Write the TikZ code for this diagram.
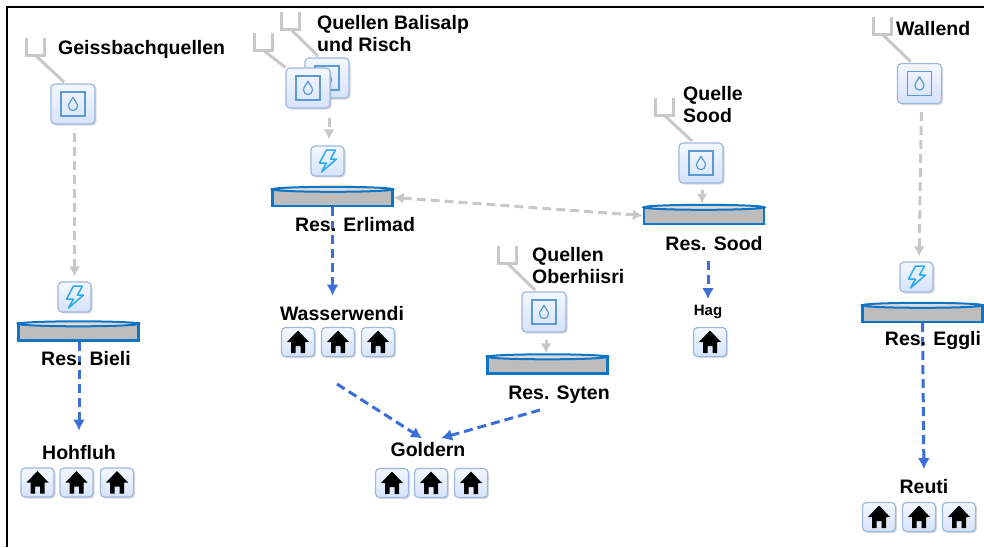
\documentclass[tikz,border=0pt]{standalone}
\usepackage{fontspec}
\setmainfont{Liberation Sans}
\usetikzlibrary{arrows.meta,shadows}
\definecolor{pipegray}{HTML}{C8C8C8}
\definecolor{tankgray}{HTML}{BDBDBD}
\definecolor{pipeblue}{HTML}{3A6FD8}
\definecolor{tankblue}{HTML}{0F74C4}
\definecolor{iconblue}{HTML}{5B9BD5}
\definecolor{boltblue}{HTML}{29ABF2}
\definecolor{boxline}{HTML}{9DB8DE}
\definecolor{boxtop}{HTML}{F4F7FF}
\definecolor{boxbottom}{HTML}{D6E3FC}
\tikzset{
    lbl/.style={font=\bfseries\fontsize{19.5}{22}\selectfont, inner sep=0pt, align=left},
    iconbox/.style={draw=boxline, line width=1.2pt, rounded corners=4pt, top color=boxtop, bottom color=boxbottom,
        drop shadow={shadow xshift=1.5pt, shadow yshift=-1.5pt, opacity=0.3}},
    stem/.style={pipegray, line width=3pt},
    grayflow/.style={pipegray, line width=3pt, dash pattern=on 9pt off 5pt, -{Latex[length=10pt,width=11pt]}},
    blueflow/.style={pipeblue, line width=3pt, dash pattern=on 9pt off 5pt, -{Latex[length=11pt,width=12pt]}},
    wellbox/.pic={
        \node[iconbox, minimum width=44pt, minimum height=40pt] (-box) at (0,0) {};
        \draw[iconblue, line width=1.4pt] (-12,-12) rectangle (12,12);
        \draw[iconblue, line width=1.2pt] (0,-7) .. controls (1,-4) and (4.5,-1) .. (4.5,2) ..
        controls (4.5,8) and (-4.5,8) .. (-4.5,2) .. controls (-4.5,-1) and (-1,-4) .. (0,-7);
    },
    boltbox/.pic={
        \node[iconbox, minimum width=33pt, minimum height=30pt] (-box) at (0,0) {};
        \draw[boltblue, line width=1.5pt, line join=round] (-1,-11) -- (8,-11) -- (3,-2) -- (9,-2) -- (-6,11) -- (-1,2) -- (-8,2) -- cycle;
    },
    housebox/.pic={
        \node[iconbox, minimum width=33pt, minimum height=29pt] (-box) at (0,0) {};
        \fill[black] (0,-11.5) -- (11,0) -- (7,0) -- (7,11) -- (2.5,11) -- (2.5,4) -- (-2.5,4) -- (-2.5,11) -- (-7,11) -- (-7,0) -- (-11,0) -- cycle;
    },
    tank/.pic={
        \node[draw=tankblue, fill=tankgray, line width=2.4pt, minimum width=120pt, minimum height=17pt, inner sep=0pt] (-tank) at (0,0) {};
        \draw[tankblue, fill=tankgray!55, line width=2pt] ([yshift=-1.5pt]-tank.north) ellipse [x radius=60pt, y radius=2.5pt];
    },
    intake/.pic={
        \draw[stem] (-9,-17) -- (-9,0) -- (9,0) -- (9,-17);
        \coordinate (-foot) at (0,0);
    },
}

\begin{document}
\begin{tikzpicture}[x=1pt, y=-1pt]
    \useasboundingbox (0,0) rectangle (984,547);
    \draw[line width=2.4pt] (7,547) -- (7,7) -- (984,7);

    \pic (geiss) at (35,55) {intake};
    \pic (balisalp) at (290.5,29) {intake};
    \pic (risch) at (263,50) {intake};
    \pic (oberhiisri) at (507,263) {intake};
    \pic (quellesood) at (664,115) {intake};
    \pic (wallend) at (882,34) {intake};

    \pic (geissq) at (73,104) {wellbox};
    \pic (balisalpq) at (327,78) {wellbox};
    \pic (rischq) at (308,88) {wellbox};
    \pic (oberhiisriq) at (544,312) {wellbox};
    \pic (soodq) at (701,163) {wellbox};
    \pic (wallendq) at (919.5,83.5) {wellbox};

    \pic (bielibolt) at (74.5,297) {boltbox};
    \pic (erlimadbolt) at (327.5,161) {boltbox};
    \pic (egglibolt) at (916.5,277) {boltbox};

    \pic (bieli) at (78.5,332) {tank};
    \pic (erlimad) at (332.5,197.5) {tank};
    \pic (syten) at (547.5,365) {tank};
    \pic (sood) at (704,215.5) {tank};
    \pic (eggli) at (922.5,313.5) {tank};

    \foreach \hname/\hx in {hoa/37.5, hob/76.5, hoc/117} \pic (\hname) at (\hx,482.5) {housebox};
    \foreach \hname/\hx in {waa/298, wab/338, wac/378} \pic (\hname) at (\hx,342) {housebox};
    \foreach \hname/\hx in {goa/392, gob/431, goc/471} \pic (\hname) at (\hx,483) {housebox};
    \foreach \hname/\hx in {rea/879, reb/919, rec/959} \pic (\hname) at (\hx,517) {housebox};
    \pic (hagh) at (710,342) {housebox};

    \node[lbl] (hohfluh) at (79,453) {Hohfluh};
    \node[lbl] (wasserwendi) at (342,314) {Wasserwendi};
    \node[lbl] (goldern) at (428,449.5) {Goldern};
    \node[lbl, font=\bfseries\fontsize{15}{18}\selectfont] (hag) at (708,312) {Hag};
    \node[lbl] (reuti) at (924,486.5) {Reuti};
    \node[lbl] (soodres) at (714,244) {Res. Sood};
    \node[lbl] (sytenres) at (559,395) {Res. Syten};
    \coordinate (wasserend) at (337,384);
    \coordinate (sytenend) at (540,410);

    \draw[stem, shorten >=2pt] (geiss-foot) -- (geissq-box.110);
    \draw[stem, shorten >=2pt] (balisalp-foot) -- (balisalpq-box.110);
    \draw[stem] (risch-foot) -- (rischq-box.north west);
    \draw[stem, shorten >=2pt] (oberhiisri-foot) -- (oberhiisriq-box.110);
    \draw[stem, shorten >=2pt] (quellesood-foot) -- (soodq-box.110);
    \draw[stem, shorten >=2pt] (wallend-foot) -- (wallendq-box.110);

    \draw[grayflow, shorten <=8pt, shorten >=5pt] (bielibolt-box.north |- geissq-box.south) -- (bielibolt-box.north);
    \draw[grayflow, shorten <=9pt, shorten >=6pt] ([xshift=1.5pt]erlimadbolt-box.north |- rischq-box.south) -- ([xshift=1.5pt]erlimadbolt-box.north);
    \draw[grayflow, shorten <=8pt, shorten >=5pt] ([xshift=2pt]wallendq-box.south) -- ([xshift=2.5pt]egglibolt-box.north);
    \draw[grayflow, shorten <=7pt, shorten >=2pt] ([xshift=2pt]oberhiisriq-box.south) -- ([xshift=2pt]syten-tank.north -| oberhiisriq-box.south);
    \draw[grayflow, shorten <=6pt, shorten >=2pt] ([xshift=1pt]soodq-box.south) -- ([xshift=1pt]sood-tank.north -| soodq-box.south);
    \draw[grayflow, {Latex[length=10pt,width=11pt]}-{Latex[length=10pt,width=11pt]}] (erlimad-tank.east) -- (sood-tank.west);

    \draw[blueflow, shorten >=15pt] (bieli-tank.south -| hohfluh.north) -- (hohfluh.north);
    \draw[blueflow, shorten >=11pt] (erlimad-tank.south) -- (erlimad-tank.south |- wasserwendi.north);
    \draw[blueflow, shorten >=10pt] (eggli-tank.south) -- (reuti.north);
    \draw[blueflow, shorten <=10pt, shorten >=6pt] (hag.north |- soodres.south) -- (hag.north);
    \draw[blueflow, shorten >=7pt] (wasserend) -- (goldern.north);
    \draw[blueflow] (sytenend) -- ([xshift=13pt,yshift=4pt]goldern.north);

    \node[lbl, anchor=west] (geisslabel) at (58,49) {Geissbachquellen};
    \node[lbl, anchor=west] (balisalplabel) at (317,34) {Quellen Balisalp\\und Risch};
    \node[lbl, anchor=west] (oberhiisrilabel) at (532,266) {Quellen\\Oberhiisri};
    \node[lbl, anchor=west] (soodlabel) at (683,105) {Quelle\\Sood};
    \node[lbl, anchor=west] (wallendlabel) at (896,28.5) {Wallend};
    \node[lbl] (bielires) at (86,358.5) {Res. Bieli};
    \node[lbl] (erlimadres) at (355,224.5) {Res. Erlimad};
    \node[lbl] (egglires) at (933,340) {Res. Eggli};
\end{tikzpicture}
\end{document}
